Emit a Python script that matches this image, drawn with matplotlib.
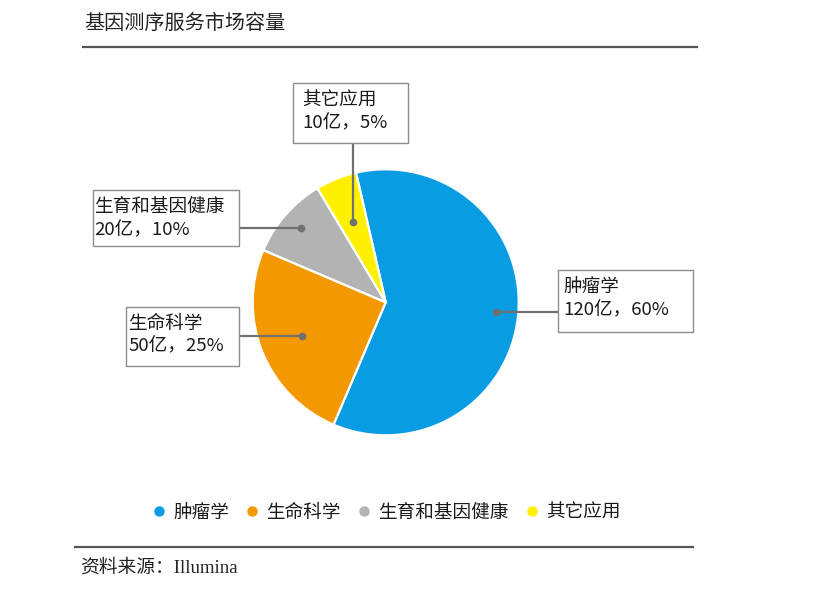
import matplotlib.pyplot as plt
from matplotlib.lines import Line2D
from matplotlib.patches import Rectangle
import numpy as np

plt.rcParams['font.family'] = ['Noto Sans CJK SC', 'DejaVu Sans']

# 数据
categories = ['肿瘤学', '生命科学', '生育和基因健康', '其它应用']
values = [120, 50, 20, 10]          # 亿
shares = [60, 25, 10, 5]            # %
colors = ['#089de3', '#f39800', '#b3b3b3', '#fff000']

W, H = 826, 594


def py(y):
    # 像素坐标(从上往下) -> 数据坐标
    return H - y


fig = plt.figure(figsize=(W / 100, H / 100), dpi=100)
ax = fig.add_axes([0, 0, 1, 1])

cx, cy, r = 385.7, py(302.3), 133
wedges, _ = ax.pie(values, colors=colors, startangle=102.9, counterclock=False,
                   center=(cx, cy), radius=r,
                   wedgeprops=dict(edgecolor='white', linewidth=1.6))
ax.set_xlim(0, W)
ax.set_ylim(0, H)
ax.set_aspect('equal')
ax.axis('off')

# 标注框: 左, 上, 右, 下 (像素), 文本起点
boxes = [(557.7, 270, 693.3, 331.7), (125.7, 306.7, 239.3, 366),
         (92.7, 190, 239.3, 245.7), (293.3, 83.3, 408.3, 143.3)]
text_x = [563.5, 128.5, 94.5, 302.5]
dot_frac = [0.83, 0.68, 0.85, 0.65]
line_col = '#707070'

for i, w in enumerate(wedges):
    mid = np.deg2rad((w.theta1 + w.theta2) / 2)
    dx = cx + dot_frac[i] * r * np.cos(mid)
    dy = cy + dot_frac[i] * r * np.sin(mid)
    x0, y0, x1, y1 = boxes[i]
    ax.add_patch(Rectangle((x0, py(y1)), x1 - x0, y1 - y0, facecolor='white',
                           edgecolor='#8c8c8c', linewidth=1.0, zorder=3))
    if i == 3:
        ax.plot([dx, dx], [dy, py(y1)], color=line_col, lw=1.6, zorder=2)
    elif i == 0:
        ax.plot([dx, x0], [dy, dy], color=line_col, lw=1.6, zorder=2)
    else:
        ax.plot([dx, x1], [dy, dy], color=line_col, lw=1.6, zorder=2)
    ax.plot(dx, dy, 'o', color=line_col, markersize=4.5, zorder=4)
    top = y0 + 17
    ax.text(text_x[i], py(top), categories[i], fontsize=13.4, color='#1a1a1a',
            ha='left', va='center', zorder=5)
    ax.text(text_x[i], py(top + 23), f'{values[i]}亿，{shares[i]}%', fontsize=13.4,
            color='#1a1a1a', ha='left', va='center', zorder=5)

# 图例
handles = [Line2D([], [], marker='o', linestyle='none', markersize=6.5,
                  markerfacecolor=c, markeredgecolor=c) for c in colors]
fig.legend(handles, categories, loc='center', bbox_to_anchor=(387 / W, 1 - 513 / H),
           ncol=4, frameon=False, fontsize=13.4, handlelength=0.6,
           handletextpad=0.45, columnspacing=0.95, labelcolor='#1a1a1a')

# 标题、分隔线、来源
fig.text(84 / W, 1 - 23 / H, '基因测序服务市场容量', fontsize=14.5, color='#222222',
         ha='left', va='center')
ax.plot([83, 697], [py(46.5), py(46.5)], color='#555555', lw=1.6)
ax.plot([75, 693], [py(547), py(547)], color='#555555', lw=1.6)
fig.text(80 / W, 1 - 568 / H, '资料来源：Illumina', fontsize=13.5, color='#222222',
         ha='left', va='center', family=['Liberation Serif', 'Noto Sans CJK SC'])

plt.savefig('out.png', dpi=100, facecolor='white')
